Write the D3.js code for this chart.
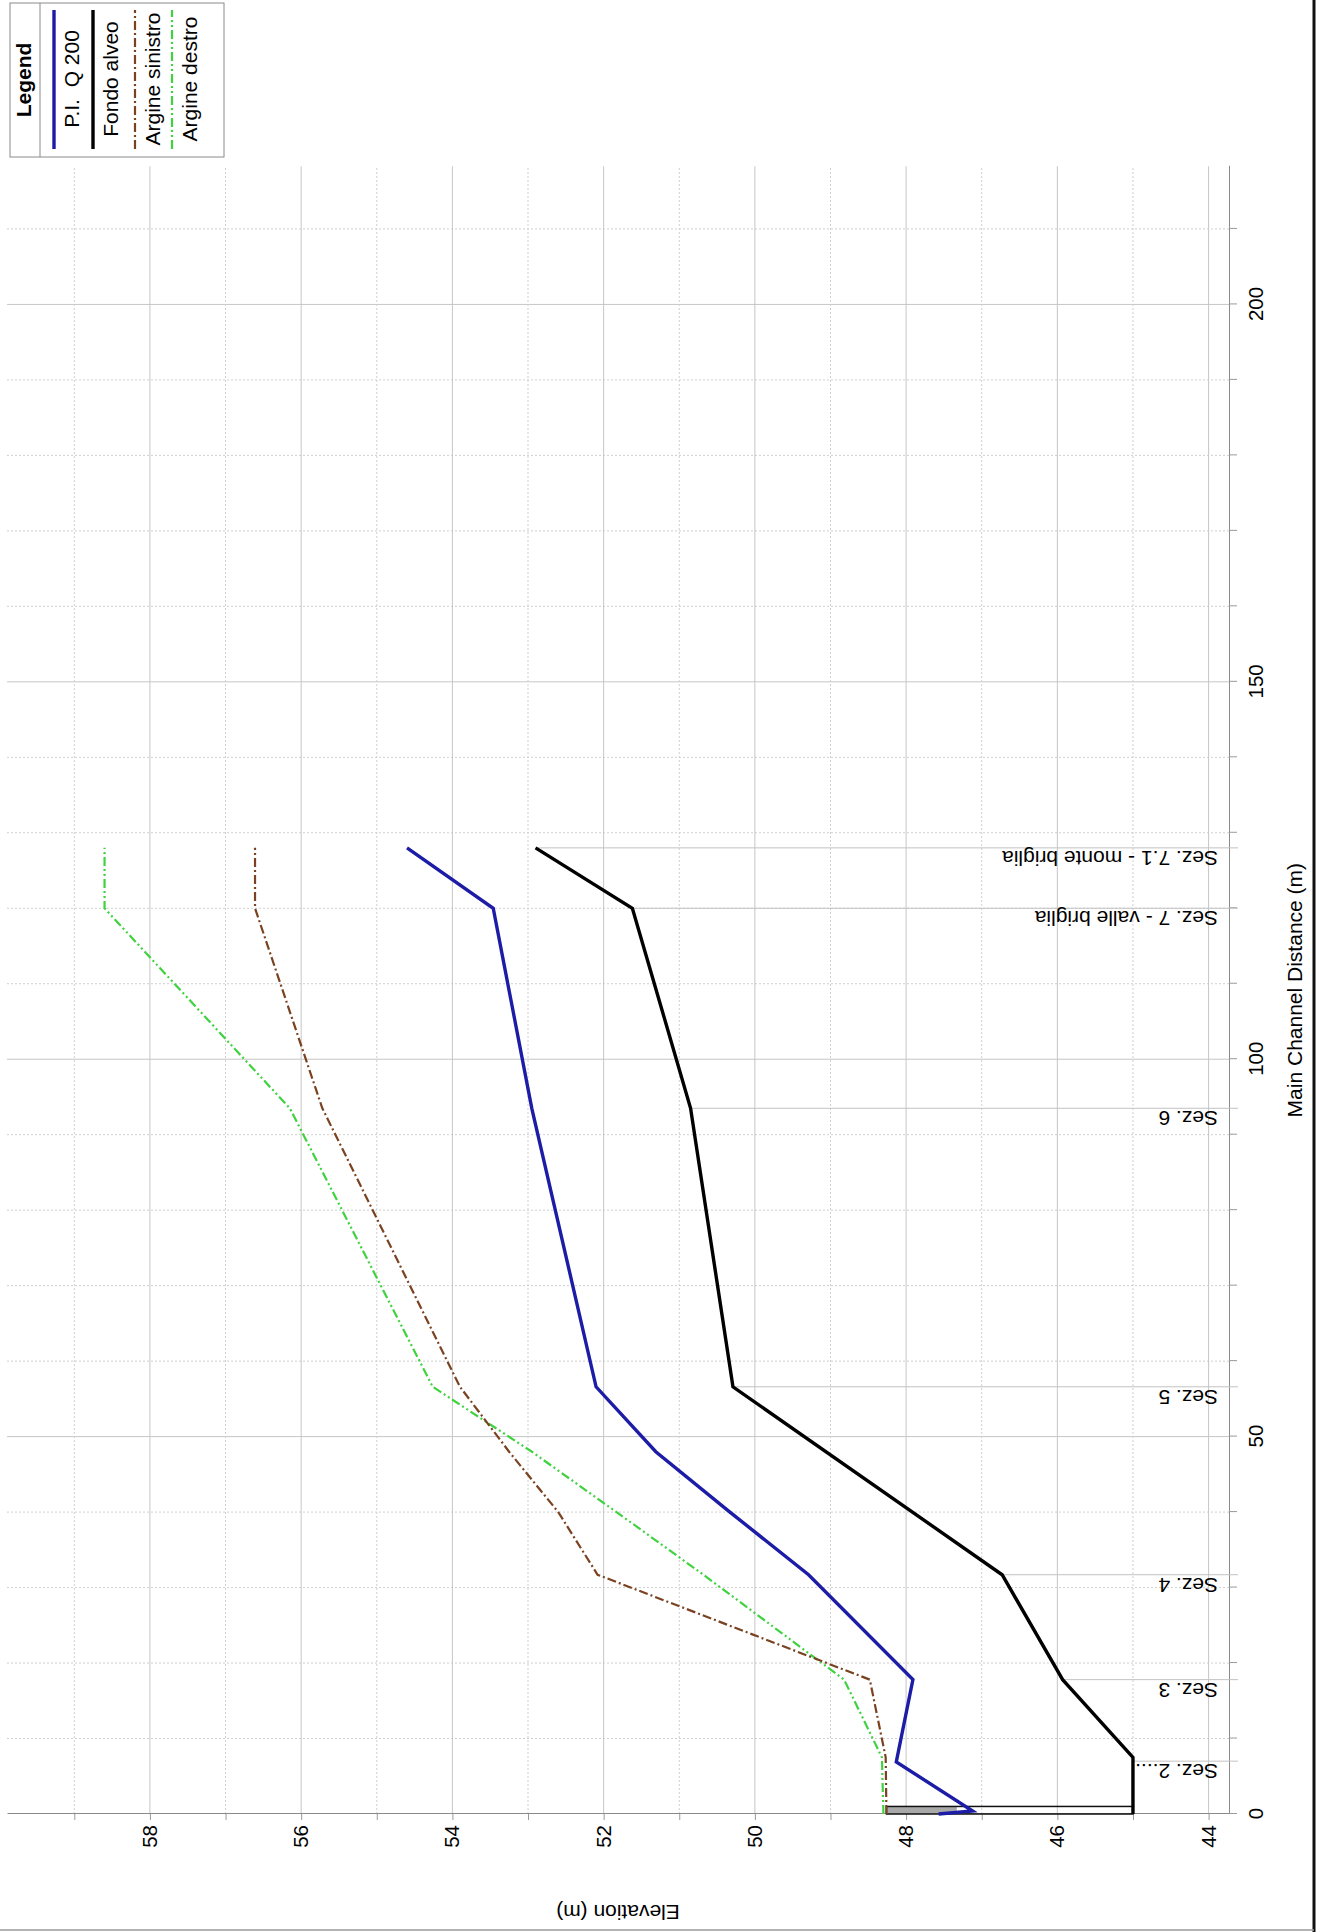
<!DOCTYPE html>
<html>
<head>
<meta charset="utf-8">
<script src="https://cdn.jsdelivr.net/npm/d3@7"></script>
<style>
  html, body { margin: 0; padding: 0; background: #fff; }
  svg { display: block; }
  text { font-family: "Liberation Sans", Arial, Helvetica, sans-serif; fill: #000; }
</style>
</head>
<body>
<svg id="chart" width="1319" height="1932"></svg>
<script>
// Longitudinal profile, [main channel distance (m), elevation (m)]
const piQ200 = [
  [0, 47.57], [0.4, 47.12], [6.9, 48.13], [17.8, 47.91], [31.7, 49.29],
  [40, 50.33], [48, 51.31], [56.6, 52.10], [93.5, 52.95], [120, 53.46], [128, 54.60]
];
const fondoAlveo = [
  [0, 45.0], [7.5, 45.0], [17.8, 45.93], [31.7, 46.73], [56.6, 50.29],
  [93.5, 50.85], [120, 51.62], [128, 52.90]
];
const argineSinistro = [
  [0, 48.26], [7.5, 48.27], [17.8, 48.48], [31.7, 52.08], [40, 52.60],
  [48, 53.25], [56.6, 53.90], [93.5, 55.72], [120, 56.61], [128, 56.61]
];
const argineDestro = [
  [0, 48.30], [7.5, 48.32], [17.8, 48.82], [31.7, 50.68], [40, 51.83],
  [48, 52.95], [56.6, 54.26], [93.5, 56.15], [120, 58.60], [128, 58.60]
];

// Cross sections along the reach
const sectionNames = ["Sez. 2....", "Sez. 3", "Sez. 4", "Sez. 5", "Sez. 6",
                      "Sez. 7 - valle briglia", "Sez. 7.1 - monte briglia"];
const sectionDistances = [7.0, 17.8, 31.7, 56.6, 93.5, 120, 128];

// Inline structure at the downstream end
const weirDistance = [0, 1.0];
const weirElevation = [45.0, 48.26];
const weirShadedFrom = 47.33;

// Axes
const distanceDomain = [0, 218.3];
const elevationDomain = [43.73, 59.89];
const distanceTicks = d3.range(0, 211, 10);
const distanceLabels = [0, 50, 100, 150, 200];
const elevationTicks = d3.range(44, 60, 1);
const elevationLabels = [44, 46, 48, 50, 52, 54, 56, 58];

const legendItems = ["P.I.  Q 200", "Fondo alveo", "Argine sinistro", "Argine destro"];

// ---------------------------------------------------------------
const svg = d3.select("#chart");
// The profile is laid out landscape (1932 x 1319) and turned a quarter counter-clockwise
const W = 1932, H = 1319;
const page = svg.append("g").attr("transform", `translate(0,${W}) rotate(-90)`);

const plot = { left: 118, right: 1765.7, top: 7, bottom: 1229 };
const x = d3.scaleLinear().domain(distanceDomain).range([plot.left, plot.right]);
const y = d3.scaleLinear().domain(elevationDomain).range([plot.bottom, plot.top]);

const FONT = 20.5;

// grid
const grid = page.append("g");
grid.selectAll("line.gx").data(distanceTicks.filter(d => d > 0)).join("line")
  .attr("x1", d => x(d)).attr("x2", d => x(d))
  .attr("y1", plot.top).attr("y2", plot.bottom)
  .attr("stroke", d => d % 50 === 0 ? "#c6c6c6" : "#cfcfcf")
  .attr("stroke-width", 1)
  .attr("stroke-dasharray", d => d % 50 === 0 ? null : "2,2");
grid.selectAll("line.gy").data(elevationTicks).join("line")
  .attr("x1", plot.left).attr("x2", plot.right)
  .attr("y1", d => y(d)).attr("y2", d => y(d))
  .attr("stroke", d => d % 2 === 0 ? "#c6c6c6" : "#cfcfcf")
  .attr("stroke-width", 1)
  .attr("stroke-dasharray", d => d % 2 === 0 ? null : "2,2");

// axes
const xAxis = page.append("g")
  .attr("transform", `translate(0,${plot.bottom})`)
  .call(d3.axisBottom(x).tickValues(distanceTicks).tickSize(8).tickSizeOuter(0)
        .tickPadding(11).tickFormat(d => distanceLabels.includes(d) ? d : ""));
const yAxis = page.append("g")
  .attr("transform", `translate(${plot.left},0)`)
  .call(d3.axisLeft(y).tickValues(elevationTicks).tickSize(6).tickSizeOuter(0)
        .tickPadding(5).tickFormat(d => elevationLabels.includes(d) ? d : ""));
[xAxis, yAxis].forEach(a => {
  a.select(".domain").attr("stroke", "#8a8a8a");
  a.selectAll(".tick line").attr("stroke", "#9a9a9a");
  a.selectAll(".tick text").attr("font-size", FONT)
    .attr("font-family", "Liberation Sans, Arial, sans-serif").attr("fill", "#000");
});

// axis titles
page.append("text")
  .attr("x", (plot.left + plot.right) / 2).attr("y", 1302)
  .attr("text-anchor", "middle").attr("font-size", 21)
  .text("Main Channel Distance (m)");
page.append("text")
  .attr("transform", `translate(27,${(plot.top + plot.bottom) / 2}) rotate(-90)`)
  .attr("text-anchor", "middle").attr("font-size", 21)
  .text("Elevation (m)");

// ground elevation at a station, read from the channel bed profile
const bedAt = dist => {
  const i = d3.bisector(p => p[0]).left(fondoAlveo, dist);
  if (i <= 0) return fondoAlveo[0][1];
  if (i >= fondoAlveo.length) return fondoAlveo[fondoAlveo.length - 1][1];
  const a = fondoAlveo[i - 1], b = fondoAlveo[i];
  return a[1] + (b[1] - a[1]) * (dist - a[0]) / (b[0] - a[0]);
};

// section markers and labels
const sections = sectionNames.map((n, i) => ({ name: n, dist: sectionDistances[i] }));
page.append("g").selectAll("line").data(sections).join("line")
  .attr("x1", d => x(d.dist)).attr("x2", d => x(d.dist))
  .attr("y1", d => y(bedAt(d.dist))).attr("y2", plot.bottom + 9)
  .attr("stroke", "#c2c2c2").attr("stroke-width", 1);
page.append("g").selectAll("text").data(sections).join("text")
  .attr("transform", d => `translate(${x(d.dist) - 3},1218) rotate(-90)`)
  .attr("font-size", 21)
  .text(d => d.name);

// inline structure
const weir = page.append("g");
weir.append("rect")
  .attr("x", x(weirDistance[0])).attr("width", x(weirDistance[1]) - x(weirDistance[0]))
  .attr("y", y(weirElevation[1])).attr("height", y(weirShadedFrom) - y(weirElevation[1]))
  .attr("fill", "#a8a8a8");
weir.append("rect")
  .attr("x", x(weirDistance[0])).attr("width", x(weirDistance[1]) - x(weirDistance[0]))
  .attr("y", y(weirElevation[1])).attr("height", y(weirElevation[0]) - y(weirElevation[1]))
  .attr("fill", "none").attr("stroke", "#111").attr("stroke-width", 1.5);

// profile lines
const line = d3.line().x(p => x(p[0])).y(p => y(p[1]));
const series = [
  { data: argineDestro,   color: "#3fd23f", width: 2.2, dash: "9,3,2,3,2,3" },
  { data: argineSinistro, color: "#7a4220", width: 2.2, dash: "9,3,2,3" },
  { data: fondoAlveo,     color: "#000000", width: 3.4, dash: null },
  { data: piQ200,         color: "#1c1ca6", width: 3.4, dash: null }
];
page.append("g").selectAll("path").data(series).join("path")
  .attr("d", s => line(s.data))
  .attr("fill", "none")
  .attr("stroke", s => s.color)
  .attr("stroke-width", s => s.width)
  .attr("stroke-dasharray", s => s.dash)
  .attr("stroke-linejoin", "miter");

// legend: a line sample with its label underneath
const lg = page.append("g");
const L = { x0: 1775, x1: 1929, y0: 10, y1: 224 };
lg.append("rect").attr("x", L.x0).attr("y", L.y0)
  .attr("width", L.x1 - L.x0).attr("height", L.y1 - L.y0)
  .attr("fill", "#fff").attr("stroke", "#8a8a8a").attr("stroke-width", 1);
lg.append("line").attr("x1", L.x0).attr("x2", L.x1).attr("y1", 40).attr("y2", 40)
  .attr("stroke", "#8a8a8a");
lg.append("text").attr("x", (L.x0 + L.x1) / 2).attr("y", 31)
  .attr("text-anchor", "middle").attr("font-size", 21).attr("font-weight", "bold")
  .text("Legend");
const legendStyles = [series[3], series[2], series[1], series[0]];
const legendRows = [54, 93, 135, 172];
const lgItem = lg.selectAll("g.item").data(legendItems).join("g");
lgItem.append("line")
  .attr("x1", 1783).attr("x2", 1922)
  .attr("y1", (d, i) => legendRows[i]).attr("y2", (d, i) => legendRows[i])
  .attr("stroke", (d, i) => legendStyles[i].color)
  .attr("stroke-width", (d, i) => legendStyles[i].width)
  .attr("stroke-dasharray", (d, i) => legendStyles[i].dash);
lgItem.append("text")
  .attr("x", (L.x0 + L.x1) / 2 + 1)
  .attr("y", (d, i) => legendRows[i] + 25)
  .attr("text-anchor", "middle").attr("font-size", 21)
  .attr("xml:space", "preserve")
  .style("white-space", "pre")
  .text(d => d);

// page frame
svg.append("line").attr("x1", 1314).attr("x2", 1314).attr("y1", 0).attr("y2", 1932)
  .attr("stroke", "#111").attr("stroke-width", 3);
svg.append("line").attr("x1", 0).attr("x2", 1314).attr("y1", 1930).attr("y2", 1930)
  .attr("stroke", "#9a9a9a").attr("stroke-width", 1.5);
</script>
</body>
</html>
